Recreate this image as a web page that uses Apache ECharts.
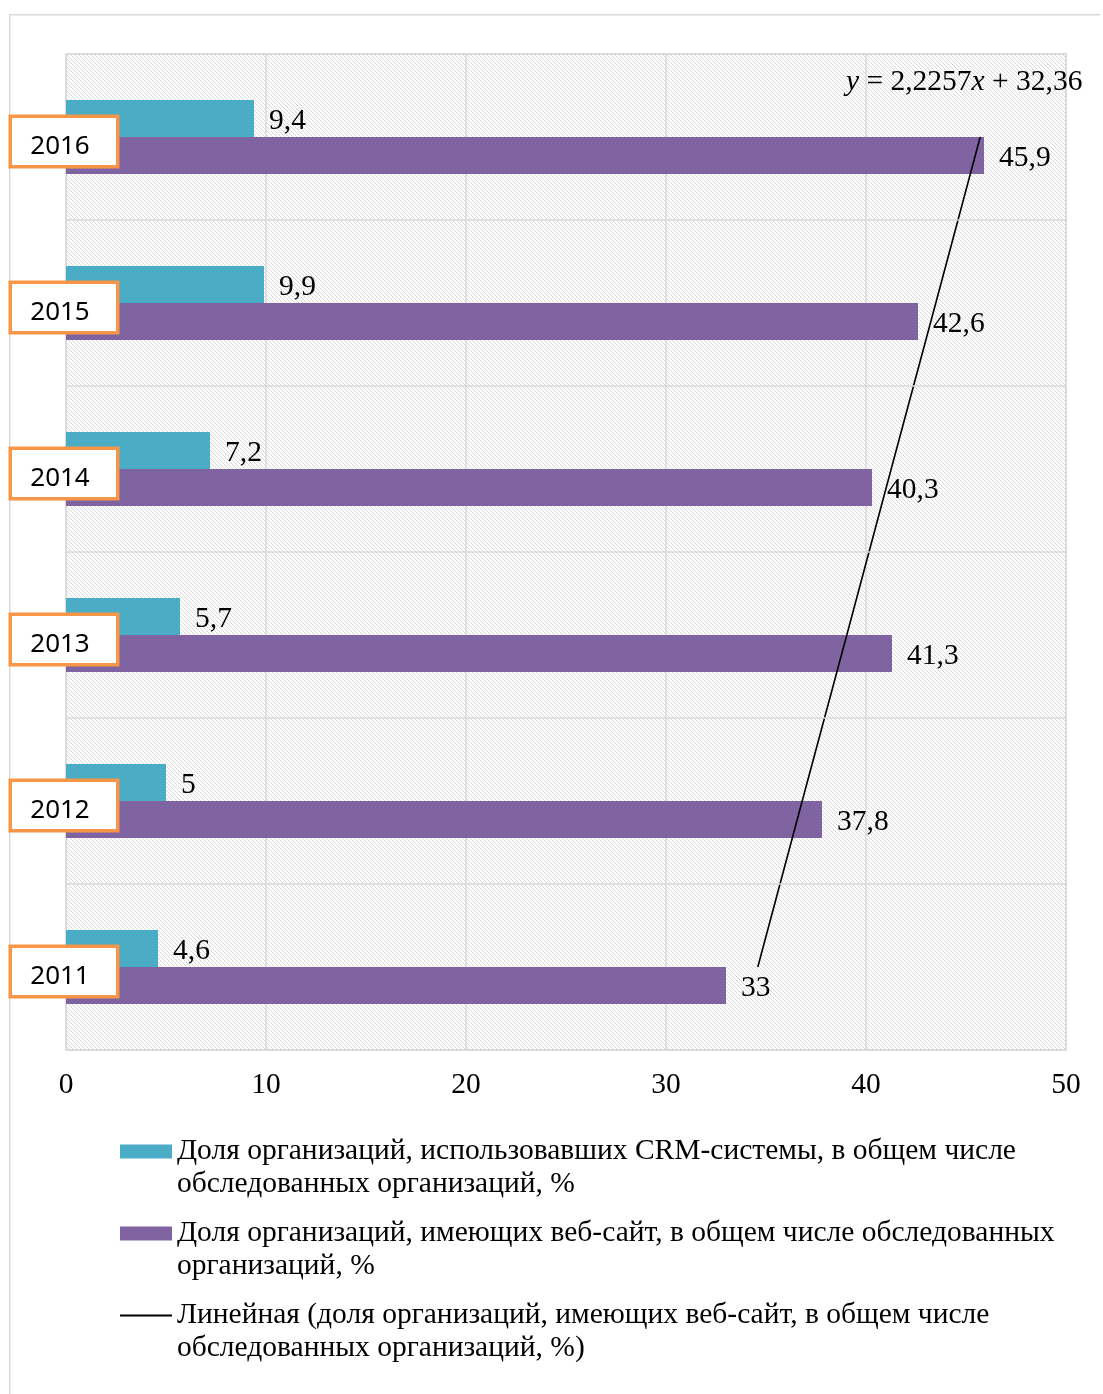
<!DOCTYPE html>
<html>
<head>
<meta charset="utf-8">
<script src="https://cdn.jsdelivr.net/npm/echarts@6/dist/echarts.min.js"></script>
<style>
  html, body { margin: 0; padding: 0; background: #fff; }
  #chart { width: 1103px; height: 1394px; }
</style>
</head>
<body>
<div id="chart"></div>
<script>
// Years on the category axis (bottom to top)
const years = ['2011', '2012', '2013', '2014', '2015', '2016'];
// Share of organisations that used CRM systems, %
const crmShare = [4.6, 5, 5.7, 7.2, 9.9, 9.4];
// Share of organisations having a website, %
const webShare = [33, 37.8, 41.3, 40.3, 42.6, 45.9];
// Linear trend of the website share, y = 2,2257x + 32,36
const trendValues = [34.59, 36.81, 39.04, 41.26, 43.49, 45.71];
const trendEquation = ['y', ' = 2,2257', 'x', ' + 32,36'];
// Value axis ticks
const xTicks = [0, 10, 20, 30, 40, 50];

// Series names, with the legend's line breaks
const crmName = ['Доля организаций, использовавших CRM-системы, в общем числе', 'обследованных организаций, %'];
const webName = ['Доля организаций, имеющих веб-сайт, в общем числе обследованных', 'организаций, %'];
const trendName = ['Линейная (доля организаций, имеющих веб-сайт, в общем числе', 'обследованных организаций, %)'];

const SERIF = '"Liberation Serif", "Times New Roman", serif';
const FS = 29.5;

// Light diagonal hatching for the plot background
function hatch() {
  const c = document.createElement('canvas');
  c.width = 4; c.height = 4;
  const g = c.getContext('2d');
  g.fillStyle = '#fdfdfd';
  g.fillRect(0, 0, 4, 4);
  g.fillStyle = '#dadada';
  for (let i = 0; i < 4; i++) g.fillRect(i, i, 1, 1);
  return c;
}

const fmt = v => String(v).replace('.', ',');
const legendText = {};
legendText[crmName.join(' ')] = crmName;
legendText[webName.join(' ')] = webName;
legendText[trendName.join(' ')] = trendName;

const barLabel = {
  show: true,
  position: 'right',
  distance: 15,
  offset: [0, 3],
  color: '#000',
  fontFamily: SERIF,
  fontSize: FS,
  formatter: p => fmt(p.value)
};

const chart = echarts.init(document.getElementById('chart'), null, { renderer: 'canvas' });

chart.setOption({
  animation: false,
  backgroundColor: '#fff',
  grid: {
    left: 66, right: 37, top: 54, bottom: 344,
    show: true,
    backgroundColor: { image: hatch(), repeat: 'repeat' },
    borderColor: '#d9d9d9',
    borderWidth: 1.5
  },
  xAxis: {
    type: 'value',
    min: xTicks[0],
    max: xTicks[xTicks.length - 1],
    interval: 10,
    axisLine: { show: false },
    axisTick: { show: false },
    splitLine: { show: true, lineStyle: { color: '#d9d9d9', width: 1.5 } },
    axisLabel: {
      margin: 20,
      color: '#000',
      fontFamily: SERIF,
      fontSize: FS
    }
  },
  yAxis: {
    type: 'category',
    data: years,
    z: 10,
    axisLine: { show: false },
    axisTick: { show: false },
    splitLine: { show: true, lineStyle: { color: '#d9d9d9', width: 1.5 } },
    axisLabel: {
      margin: -50,
      align: 'right',
      padding: [9, 0, 0, 0],
      formatter: v => '{b|' + v + '}',
      rich: {
        b: {
          color: '#000',
          fontFamily: '"Noto Sans", sans-serif',
          fontSize: 26,
          backgroundColor: '#fff',
          borderColor: '#F79646',
          borderWidth: 3.5,
          width: 96,
          height: 37,
          align: 'center',
          padding: [10, 8, 0, 0]
        }
      }
    }
  },
  legend: {
    orient: 'vertical',
    left: 119,
    top: 1102,
    padding: 0,
    itemWidth: 52,
    itemHeight: 14,
    itemGap: -17,
    selectedMode: false,
    data: [
      { name: crmName.join(' '), icon: 'rect' },
      { name: webName.join(' '), icon: 'rect' },
      { name: trendName.join(' '), itemStyle: { opacity: 0 } }
    ],
    formatter: name => '\n' + legendText[name].join('\n'),
    textStyle: {
      color: '#000',
      fontFamily: SERIF,
      fontSize: FS,
      lineHeight: 33
    }
  },
  graphic: [
    {
      type: 'polyline',
      silent: true,
      shape: { points: [[9.75, 1394], [9.75, 14.75], [1100, 14.75]] },
      style: { stroke: '#d9d9d9', lineWidth: 1.5, fill: null }
    },
    {
      type: 'text',
      left: 846,
      top: 67,
      z: 20,
      style: {
        text: '{i|' + trendEquation[0] + '}' + trendEquation[1] + '{i|' + trendEquation[2] + '}' + trendEquation[3],
        fill: '#000',
        font: FS + 'px ' + SERIF,
        rich: {
          i: { fontStyle: 'italic', fontFamily: SERIF, fontSize: FS, fill: '#000' }
        }
      }
    }
  ],
  series: [
    {
      name: crmName.join(' '),
      type: 'bar',
      data: crmShare,
      barWidth: 37,
      barGap: '0%',
      itemStyle: { color: '#4BACC6' },
      label: barLabel
    },
    {
      name: webName.join(' '),
      type: 'bar',
      data: webShare,
      barWidth: 37,
      barGap: '0%',
      itemStyle: { color: '#8064A2' },
      label: barLabel
    },
    {
      name: trendName.join(' '),
      type: 'line',
      z: 5,
      symbol: 'none',
      data: trendValues.map((v, i) => [v, years[i]]),
      lineStyle: { color: '#000', width: 1.6 },
      itemStyle: { color: '#000' }
    }
  ]
});
</script>
</body>
</html>
